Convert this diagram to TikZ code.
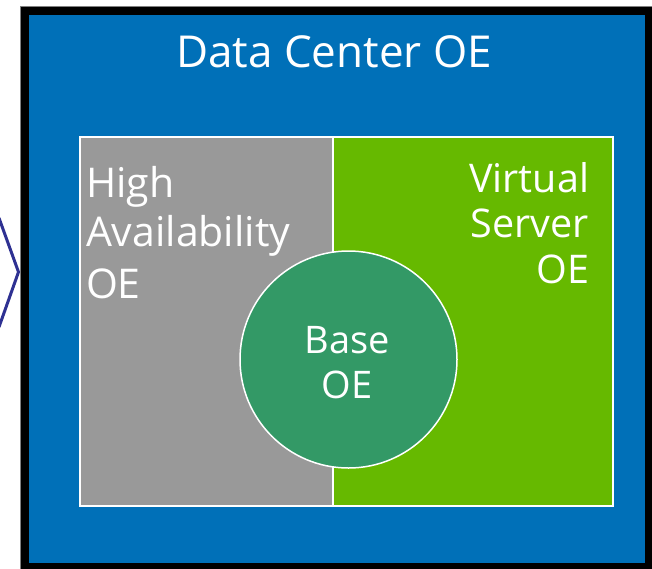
\documentclass[tikz,border=0pt]{standalone}
\usepackage{fontspec}
\setmainfont{Open Sans}
\definecolor{dcblue}{RGB}{0,112,184}
\definecolor{hagray}{RGB}{153,153,153}
\definecolor{vsgreen}{RGB}{102,185,0}
\definecolor{basegreen}{RGB}{51,153,102}
\definecolor{chev}{RGB}{46,49,146}
\begin{document}
\begin{tikzpicture}[x=1pt,y=-1pt,
  lbl/.style={text=white,inner sep=0pt,outer sep=0pt},
  title/.style={lbl,font=\fontsize{44}{50}\selectfont},
  hafont/.style={lbl,font=\fontsize{41}{48}\selectfont},
  vsfont/.style={lbl,font=\fontsize{39.5}{48}\selectfont},
  basefont/.style={lbl,font=\fontsize{38}{44}\selectfont},
  panel/.style={draw=white,line width=1.5pt}]
\useasboundingbox (0,0) rectangle (652,568);
% chevron
\draw[chev,line width=3pt] (-1,218) -- (18.5,272) -- (-1,327);
% frame
\fill[black] (20,6) rectangle (660,580);
\draw[gray,line width=0.8pt] (20,6) -- (660,6);
\draw[gray,line width=0.8pt] (20,6) -- (20,580);
\fill[dcblue] (29,15) rectangle (644.5,563);
% panels
\draw[panel,fill=hagray] (80,137) rectangle (333,506);
\draw[panel,fill=vsgreen] (333,137) rectangle (613,506);
\draw[panel,fill=basegreen] (348.5,359.5) circle (108.5);
% texts
\node[title,anchor=base] (dc) at (334,67.5) {Data Center OE};
\node[hafont,anchor=base west] (ha1) at (86,197) {High};
\node[hafont,anchor=base west] (ha2) at (86,246) {Availability};
\node[hafont,anchor=base west] (ha3) at (86,298) {OE};
\node[vsfont,anchor=base east] (vs1) at (589,192) {Virtual};
\node[vsfont,anchor=base east] (vs2) at (589,237) {Server};
\node[vsfont,anchor=base east] (vs3) at (589,283) {OE};
\node[basefont,anchor=base] (b1) at (347,353) {Base};
\node[basefont,anchor=base] (b2) at (347,398) {OE};
\end{tikzpicture}
\end{document}
